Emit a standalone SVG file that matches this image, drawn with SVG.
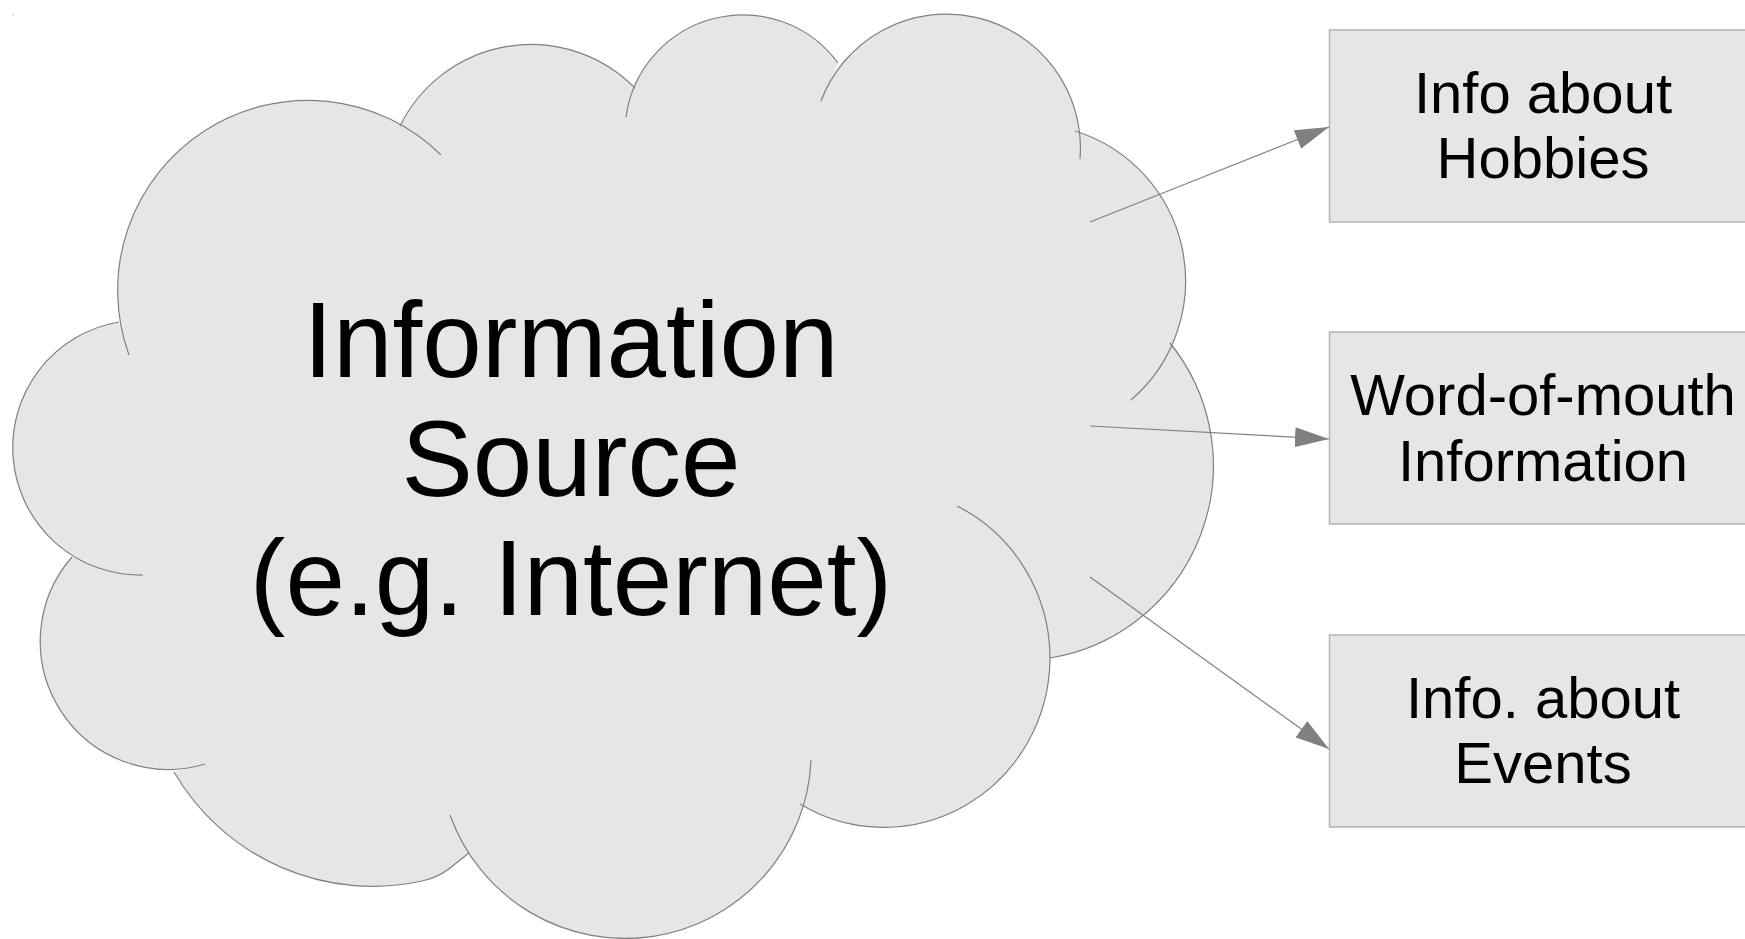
<svg xmlns="http://www.w3.org/2000/svg" width="1745" height="939" viewBox="0 0 1745 939">
  <style>
    .lobe { fill: none; stroke: #808080; stroke-width: 1.2; }
    .box { fill: #e6e6e6; stroke: #b3b3b3; stroke-width: 1.5; }
    .conn { fill: none; stroke: #808080; stroke-width: 1.2; }
    .t { font-family: "Liberation Sans", Arial, sans-serif; fill: #000; text-anchor: middle; }
    .big { font-size: 107px; }
    .small { font-size: 58px; }
  </style>
  <defs>
    <marker id="ah" markerUnits="userSpaceOnUse" markerWidth="34" markerHeight="20" refX="34" refY="10" orient="auto" viewBox="0 0 34 20">
      <path d="M0,0 L34,10 L0,20 z" fill="#808080"/>
    </marker>
  </defs>
  <rect width="1745" height="939" fill="#ffffff"/>
  <rect x="12.5" y="14.5" width="1" height="1" fill="#999999"/>

  <g id="cloud">
    <path fill="#e6e6e6" stroke="none" d="M129,355 A190 190 0 0 1 441,155 L400,126 A146 146 0 0 1 635,88 L626,117 A118 118 0 0 1 838,63 L821,101 A134 134 0 0 1 1080,159 L1075,131 A157 157 0 0 1 1131,400 L1170,343 A195 195 0 0 1 1050,658 L957,506 A166 170 0 0 1 1050,658 A166 170 0 0 1 800,804 L811,760 A186 186 0 0 1 450,815 L469,853 L455,864 Q441,877 422,881 A230 230 0 0 1 174,772 L205,764 A128 128 0 0 1 72,557 L143,575 A127.4 127.4 0 0 1 119,322 Z"/>
    <path class="lobe" d="M129,355 A190 190 0 0 1 441,155 M400,126 A146 146 0 0 1 635,88 M626,117 A118 118 0 0 1 838,63 M821,101 A134 134 0 0 1 1080,159 M1075,131 A157 157 0 0 1 1131,400 M1170,343 A195 195 0 0 1 1050,658 M957,506 A166 170 0 0 1 1050,658 A166 170 0 0 1 800,804 M811,760 A186 186 0 0 1 450,815 M469,853 L455,864 Q441,877 422,881 A230 230 0 0 1 174,772 M205,764 A128 128 0 0 1 72,557 M143,575 A127.4 127.4 0 0 1 119,322"/>
    <text class="t big" x="571" y="377">Information</text>
    <text class="t big" x="571" y="496">Source</text>
    <text class="t big" x="571" y="615">(e.g. Internet)</text>
  </g>

  <g id="hobbies">
    <rect class="box" x="1329.5" y="30" width="430" height="192"/>
    <text class="t small" x="1543" y="113">Info about</text>
    <text class="t small" x="1543" y="178">Hobbies</text>
  </g>

  <g id="wordofmouth">
    <rect class="box" x="1329.5" y="332" width="430" height="192"/>
    <text class="t small" x="1543" y="415">Word-of-mouth</text>
    <text class="t small" x="1543" y="481">Information</text>
  </g>

  <g id="events">
    <rect class="box" x="1329.5" y="635" width="430" height="192"/>
    <text class="t small" x="1543" y="718">Info. about</text>
    <text class="t small" x="1543" y="783">Events</text>
  </g>

  <g id="connectors">
    <path class="conn" d="M1090,222 L1329,127" marker-end="url(#ah)"/>
    <path class="conn" d="M1090,426 L1329,439" marker-end="url(#ah)"/>
    <path class="conn" d="M1090,577 L1329,749" marker-end="url(#ah)"/>
  </g>
</svg>
